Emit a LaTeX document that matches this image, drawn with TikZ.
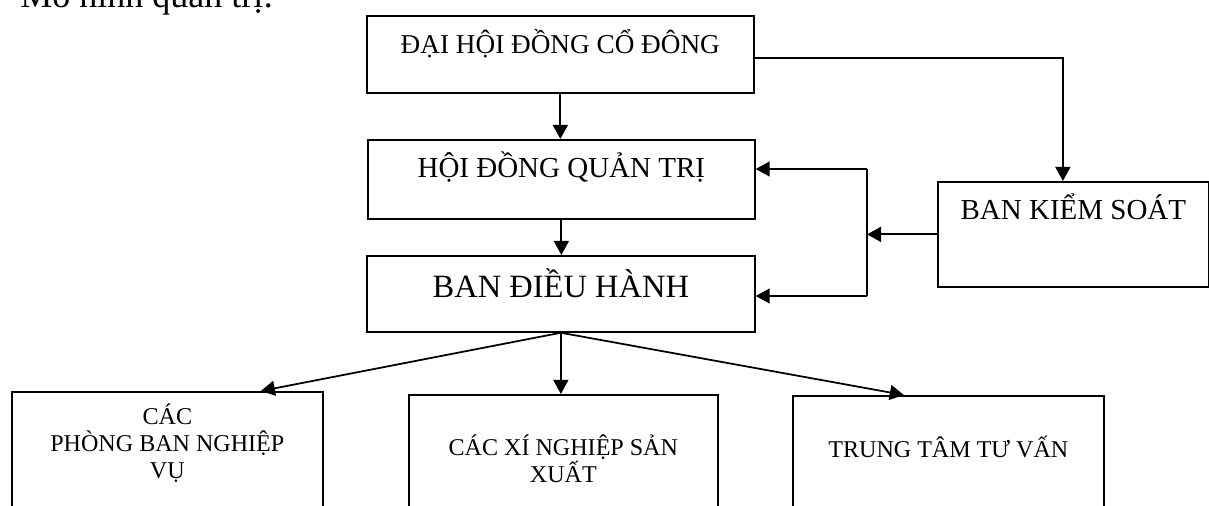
\documentclass[tikz,border=0pt]{standalone}
\usepackage{fontspec}
\setmainfont{Liberation Serif}
\usetikzlibrary{arrows.meta}
\newcommand{\fttl}{\fontsize{20.5}{24}\selectfont}
\newcommand{\ftop}{\fontsize{15.5}{18}\selectfont}
\newcommand{\fmid}{\fontsize{16.5}{19}\selectfont}
\newcommand{\fbig}{\fontsize{18.5}{21}\selectfont}
\newcommand{\fbot}{\fontsize{13.7}{15.4}\selectfont}

\begin{document}
\begin{tikzpicture}[x=0.02cm,y=-0.02cm,
  box/.style={draw,line width=1pt,inner sep=0pt,align=center,anchor=north west},
  arr/.style={line width=1pt,-{Triangle[length=8pt,width=8.5pt]}},
  ln/.style={line width=1pt}]
  \useasboundingbox (0,0) rectangle (1209,506);
  \node[anchor=base west,inner sep=0pt,font=\fttl] (title) at (20,8) {Mô hình quản trị:};
  \node[box,minimum width=7.74cm,text height=0.76cm,text depth=0.78cm,font=\ftop] (dhcd) at (366,15) {ĐẠI HỘI ĐỒNG CỔ ĐÔNG};
  \node[box,minimum width=7.74cm,text height=0.76cm,text depth=0.82cm,font=\fmid] (hdqt) at (367,139) {HỘI ĐỒNG QUẢN TRỊ};
  \node[box,minimum width=7.76cm,text height=0.84cm,text depth=0.68cm,font=\fbig] (bdh) at (366,255) {BAN ĐIỀU HÀNH};
  \node[box,minimum width=5.42cm,text height=0.76cm,text depth=1.34cm,font=\fmid] (bks) at (937,181) {BAN KIỂM SOÁT};
  \node[box,minimum width=6.22cm,text height=1.74cm,text depth=1.04cm,font=\fbot] (pb) at (11,391) {CÁC\\PHÒNG BAN NGHIỆP\\VỤ};
  \node[box,minimum width=6.18cm,text height=1.76cm,text depth=0.96cm,font=\fbot] (xn) at (408,394) {CÁC XÍ NGHIỆP SẢN\\XUẤT};
  \node[box,minimum width=6.22cm,text height=1.24cm,text depth=1.46cm,font=\fbot] (tt) at (792,395) {TRUNG TÂM TƯ VẤN};
  \coordinate (bustop) at (867,169);
  \coordinate (busbot) at (867,296);

  \draw[arr] (dhcd.south) -- (dhcd.south |- hdqt.north);
  \draw[arr] (hdqt.south) -- (hdqt.south |- bdh.north);
  \draw[arr] ([yshift=-0.07cm]dhcd.east) -| ([xshift=-0.21cm]bks.north);
  \draw[arr] (bks.west) -- (bks.west -| bustop);
  \draw[ln] (bustop) -- (busbot);
  \draw[arr] (bustop) -- (bustop -| hdqt.east);
  \draw[arr] (busbot) -- (busbot -| bdh.east);
  \draw[arr] (bdh.south) -- ([xshift=1.87cm]pb.north);
  \draw[arr] (bdh.south) -- (bdh.south |- xn.north);
  \draw[arr] (bdh.south) -- ([xshift=-0.89cm]tt.north);
\end{tikzpicture}
\end{document}
